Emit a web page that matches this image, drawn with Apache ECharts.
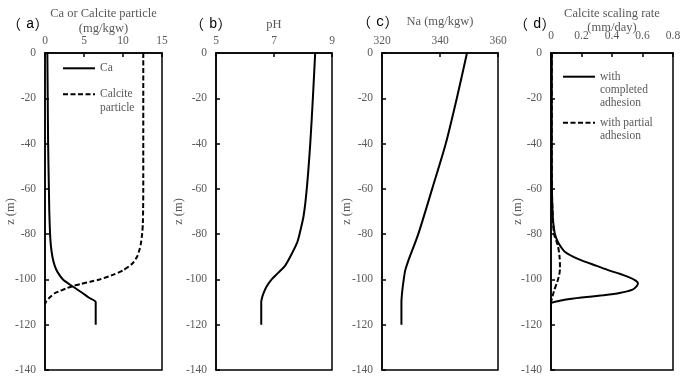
<!DOCTYPE html>
<html><head><meta charset="utf-8">
<script src="https://cdn.jsdelivr.net/npm/echarts@6/dist/echarts.min.js"></script>
<style>html,body{margin:0;padding:0;background:#fff}#c{width:691px;height:386px}</style>
</head><body><div id="c"></div>
<script>
// ---- data (depth z in m) ----
const zTicks = [0, -20, -40, -60, -80, -100, -120, -140];
const caTicks = [0, 5, 10, 15];
const phTicks = [5, 7, 9];
const naTicks = [320, 340, 360];
const rateTicks = [0, 0.2, 0.4, 0.6, 0.8];

const caDepth = [0, -20, -40, -60, -70, -80, -85, -90, -94, -97, -100, -103, -106, -108, -110, -115, -120];
const caValues = [0.3, 0.35, 0.4, 0.5, 0.55, 0.65, 0.75, 0.95, 1.25, 1.65, 2.3, 3.5, 4.8, 5.6, 6.5, 6.5, 6.5];

const calciteDepth = [0, -20, -40, -60, -75, -80, -84, -87, -90, -93, -96, -98, -100, -101, -102, -103, -104, -105, -106, -108, -110, -111];
const calciteValues = [12.6, 12.6, 12.6, 12.6, 12.55, 12.45, 12.3, 12.1, 11.8, 11.2, 10.0, 8.7, 7.0, 5.8, 4.6, 3.5, 2.7, 2.0, 1.3, 0.6, 0.1, 0];

const phDepth = [0, -20, -40, -60, -72, -80, -84, -90, -94, -97, -100, -103, -106, -108, -110, -115, -120];
const phValues = [8.42, 8.34, 8.25, 8.13, 8.02, 7.88, 7.79, 7.56, 7.38, 7.15, 6.92, 6.75, 6.64, 6.59, 6.56, 6.56, 6.56];

const naDepth = [0, -20, -40, -60, -80, -92, -96, -100, -105, -110, -120];
const naValues = [349.3, 345.8, 342, 337.3, 332.5, 329, 328, 327.5, 327, 326.7, 326.7];

const fullDepth = [0, -20, -40, -60, -70, -75, -80, -84, -88, -91, -94, -96, -97.5, -99, -100.5, -101.7, -103, -104.5, -106, -107, -108, -109, -110, -110.5, -115, -120];
const fullValues = [0.005, 0.005, 0.005, 0.006, 0.01, 0.015, 0.026, 0.05, 0.095, 0.18, 0.3, 0.38, 0.45, 0.51, 0.555, 0.57, 0.562, 0.535, 0.45, 0.34, 0.2, 0.09, 0.02, 0, 0, 0];

const partialDepth = [0, -20, -40, -60, -70, -80, -85, -90, -95, -98, -100, -102, -105, -108, -110, -115, -120];
const partialValues = [0.005, 0.005, 0.005, 0.006, 0.01, 0.02, 0.045, 0.056, 0.059, 0.054, 0.046, 0.036, 0.02, 0.008, 0, 0, 0];

const panelLetters = ['a', 'b', 'c', 'd'];

const legendLines = {
  'Ca': ['Ca'],
  'Calcite particle': ['Calcite', 'particle'],
  'with completed adhesion': ['with', 'completed', 'adhesion'],
  'with partial adhesion': ['with partial', 'adhesion']
};

function zip(vals, depth) { return vals.map((v, i) => [v, depth[i]]); }

const SERIF = "'Liberation Serif', 'Times New Roman', serif";
const GRAY = '#595959';

const grids = [
  { left: 45, width: 117 },
  { left: 216, width: 116 },
  { left: 382, width: 116 },
  { left: 551, width: 122 }
].map(g => Object.assign({ top: 53, height: 317, show: true, borderColor: '#000', borderWidth: 1.5,
  containLabel: false, outerBoundsMode: 'none' }, g));

function xAxisOf(i, min, max, ticks, name, nameGap, labelMargin, nameLH) {
  return {
    type: 'value', gridIndex: i, position: 'top', min: min, max: max,
    name: name, nameLocation: 'middle', nameGap: nameGap, nameMoveOverlap: false,
    nameTextStyle: { fontFamily: SERIF, fontSize: 12.5, color: GRAY, lineHeight: nameLH },
    axisLine: { show: true, lineStyle: { color: '#000', width: 1.5 } },
    axisTick: { show: true, inside: true, length: 4, customValues: ticks, lineStyle: { color: '#000', width: 1.5 } },
    axisLabel: { customValues: ticks, margin: labelMargin, fontFamily: SERIF, fontSize: 11.5, color: GRAY, showMinLabel: true, showMaxLabel: true },
    splitLine: { show: false }
  };
}
function yAxisOf(i, nameGap) {
  return {
    type: 'value', gridIndex: i, min: -140, max: 0, interval: 20,
    name: 'z (m)', nameLocation: 'middle', nameGap: nameGap, nameMoveOverlap: false,
    nameTextStyle: { fontFamily: SERIF, fontSize: 12.5, color: GRAY },
    axisLine: { show: true, onZero: false, lineStyle: { color: '#000', width: 1.5 } },
    axisTick: { show: true, inside: true, length: 4, lineStyle: { color: '#000', width: 1.5 } },
    axisLabel: { margin: 9, fontFamily: SERIF, fontSize: 11.5, color: GRAY, showMinLabel: true, showMaxLabel: true },
    splitLine: { show: false }
  };
}

function lineSeries(name, i, vals, depth, dashed) {
  return {
    type: 'line', name: name, xAxisIndex: i, yAxisIndex: i,
    data: zip(vals, depth), symbol: 'none', showSymbol: false,
    smooth: 0.25, animation: false,
    lineStyle: { color: '#000', width: 2, type: dashed ? [5, 2.5] : 'solid' },
    itemStyle: { color: '#000' }
  };
}

function legendOf(name, left, iconY, lh) {
  const n = legendLines[name].length;
  const H = (2 * n - 1) * lh;
  return {
    data: [name], left: left, top: iconY - Math.max(H, 10) / 2, orient: 'vertical',
    padding: 0, itemWidth: 32, itemHeight: 10, itemGap: 0, selectedMode: false,
    itemStyle: { opacity: 0, color: 'rgba(0,0,0,0)', borderWidth: 0 },
    formatter: nm => {
      const lines = legendLines[nm];
      return new Array(lines.length - 1).fill(' ').concat(lines).join('\n');
    },
    textStyle: { fontFamily: SERIF, fontSize: 11.5, color: GRAY, lineHeight: lh }
  };
}

function panelTitle(letter, left, top) {
  return { text: '{p|（}{m|' + letter + '}{p|）}', left: left, top: top, padding: 0,
    textStyle: { color: '#000', fontWeight: 'normal', lineHeight: 16,
      rich: {
        p: { fontFamily: "'Noto Sans CJK SC', sans-serif", fontSize: 14, fontWeight: 'normal', color: '#000', lineHeight: 16 },
        m: { fontFamily: "'Liberation Mono', 'DejaVu Sans Mono', monospace", fontSize: 14, fontWeight: 'normal', color: '#000', lineHeight: 16, padding: [0, 0, 0, 5] }
      } } };
}

const option = {
  backgroundColor: '#fff',
  animation: false,
  title: [
    panelTitle(panelLetters[0], 7, 16),
    panelTitle(panelLetters[1], 190, 16),
    panelTitle(panelLetters[2], 357, 14),
    panelTitle(panelLetters[3], 514, 16)
  ],
  grid: grids,
  xAxis: [
    xAxisOf(0, 0, 15, caTicks, 'Ca or Calcite particle\n(mg/kgw)', 16.5, 6, 15),
    xAxisOf(1, 5, 9, phTicks, 'pH', 20.5, 6, 15),
    xAxisOf(2, 320, 360, naTicks, 'Na (mg/kgw)', 23.5, 6, 15),
    xAxisOf(3, 0, 0.8, rateTicks, 'Calcite scaling rate\n(mm/day)', 18, 11, 14)
  ],
  yAxis: [yAxisOf(0, 27.5), yAxisOf(1, 31), yAxisOf(2, 29), yAxisOf(3, 26.5)],
  legend: [
    legendOf('Ca', 62, 68.3, 14),
    legendOf('Calcite particle', 62, 94.3, 14),
    legendOf('with completed adhesion', 562, 76.7, 13.3),
    legendOf('with partial adhesion', 562, 122.7, 13.3)
  ],
  series: [
    lineSeries('Ca', 0, caValues, caDepth, false),
    lineSeries('Calcite particle', 0, calciteValues, calciteDepth, true),
    lineSeries('pH', 1, phValues, phDepth, false),
    lineSeries('Na', 2, naValues, naDepth, false),
    lineSeries('with completed adhesion', 3, fullValues, fullDepth, false),
    lineSeries('with partial adhesion', 3, partialValues, partialDepth, true)
  ]
};

const chart = echarts.init(document.getElementById('c'), null, { renderer: 'canvas' });
chart.setOption(option);
</script>
</body></html>
